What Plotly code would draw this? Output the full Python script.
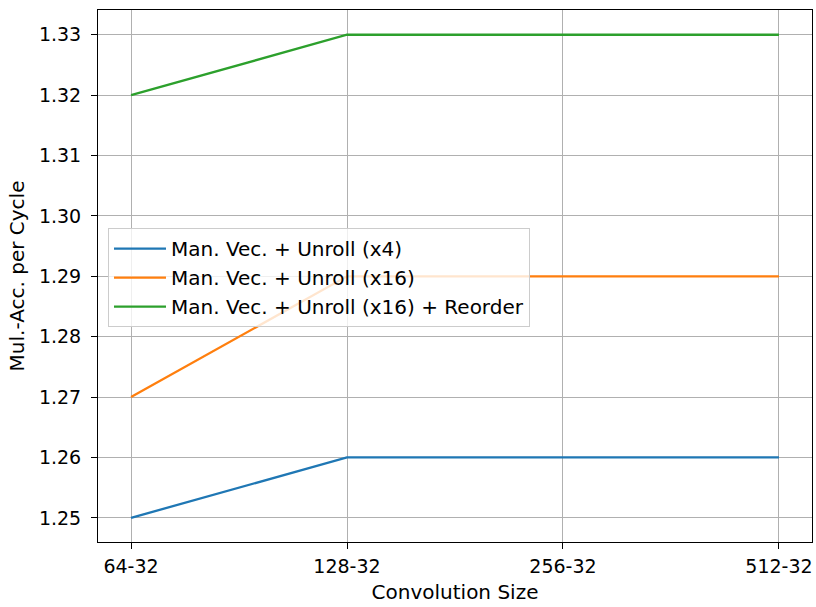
import plotly.graph_objects as go

categories = ["64-32", "128-32", "256-32", "512-32"]
series_names = ["Man. Vec. + Unroll (x4)", "Man. Vec. + Unroll (x16)", "Man. Vec. + Unroll (x16) + Reorder"]
vals_x4 = [1.25, 1.26, 1.26, 1.26]
vals_x16 = [1.27, 1.29, 1.29, 1.29]
vals_reorder = [1.32, 1.33, 1.33, 1.33]
colors = ["#1f77b4", "#ff7f0e", "#2ca02c"]
yticks = [1.25, 1.26, 1.27, 1.28, 1.29, 1.30, 1.31, 1.32, 1.33]

xpos = list(range(len(categories)))
fig = go.Figure()
for name, vals, c in zip(series_names, [vals_x4, vals_x16, vals_reorder], colors):
    fig.add_trace(go.Scatter(x=xpos, y=vals, mode="lines", name=name,
                             line=dict(color=c, width=2.3)))

fig.update_layout(
    width=816, height=607,
    margin=dict(l=98, r=4, t=10, b=65),
    plot_bgcolor="white", paper_bgcolor="white",
    font=dict(family="DejaVu Sans", size=19, color="black"),
    legend=dict(x=0.014, y=0.59, xanchor="left", yanchor="top",
                bgcolor="rgba(255,255,255,0.8)", bordercolor="#cccccc", borderwidth=1,
                font=dict(size=20), tracegroupgap=0, itemwidth=52),
    showlegend=True,
)
fig.update_xaxes(range=[-0.153, 3.153], tickvals=xpos, ticktext=categories,
                 showgrid=True, gridcolor="#b0b0b0", gridwidth=1,
                 showline=True, linecolor="black", linewidth=1, mirror=True,
                 ticks="outside", ticklen=6, tickcolor="black", zeroline=False,
                 ticklabelstandoff=1,
                 title=dict(text="Convolution Size", font=dict(size=20), standoff=9))
fig.update_yaxes(range=[1.2460, 1.3341], tickvals=yticks,
                 ticktext=[f"{v:.2f}" for v in yticks],
                 showgrid=True, gridcolor="#b0b0b0", gridwidth=1,
                 showline=True, linecolor="black", linewidth=1, mirror=True,
                 ticks="outside", ticklen=6, tickcolor="black", zeroline=False,
                 ticklabelstandoff=6,
                 title=dict(text="Mul.-Acc. per Cycle", font=dict(size=20), standoff=8))
fig.write_html("out.html")
